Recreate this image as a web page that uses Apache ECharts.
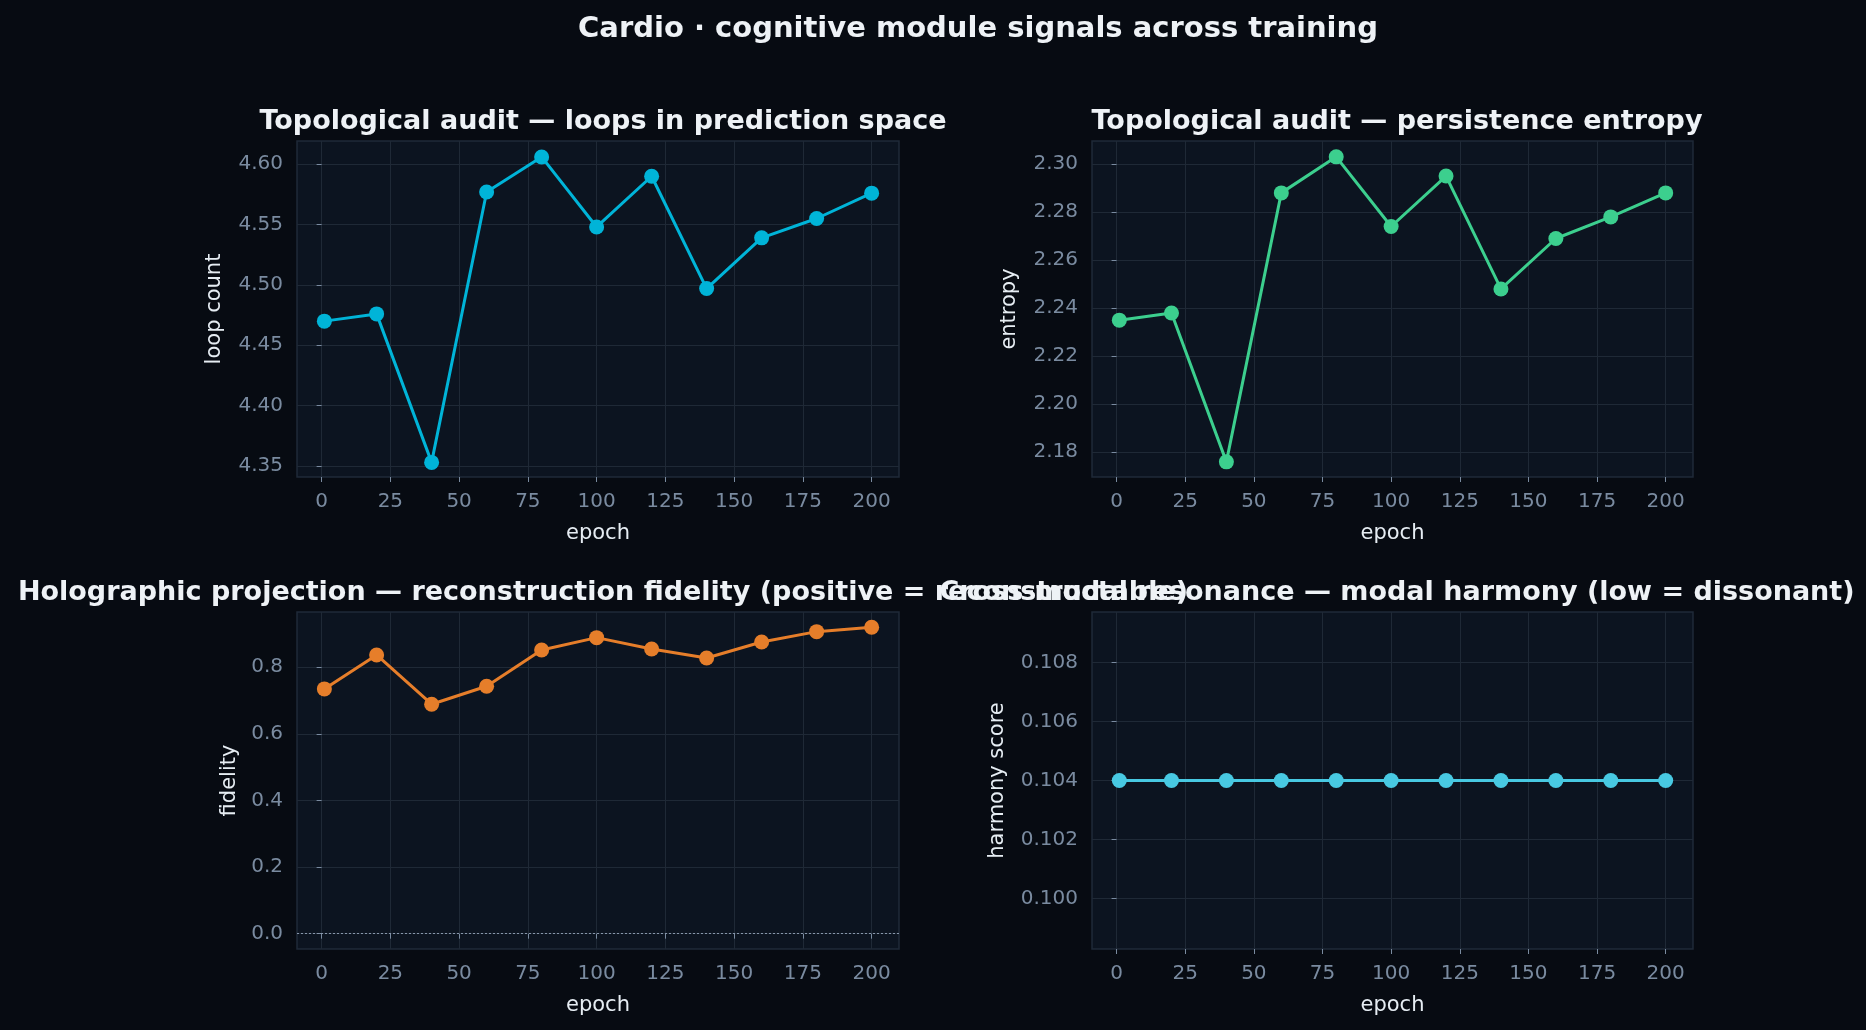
<!DOCTYPE html>
<html>
<head>
<meta charset="utf-8">
<title>Cardio cognitive module signals</title>
<script src="https://cdn.jsdelivr.net/npm/echarts@6/dist/echarts.min.js"></script>
<style>
  html, body { margin: 0; padding: 0; background: #070b12; }
  #main { width: 1866px; height: 1030px; }
</style>
</head>
<body>
<div id="main"></div>
<script>
const epochs = [1, 20, 40, 60, 80, 100, 120, 140, 160, 180, 200];
const loopCount = [4.470, 4.476, 4.353, 4.577, 4.606, 4.548, 4.590, 4.497, 4.539, 4.555, 4.576];
const entropy = [2.235, 2.238, 2.176, 2.288, 2.303, 2.274, 2.295, 2.248, 2.269, 2.278, 2.288];
const fidelity = [0.735, 0.837, 0.689, 0.743, 0.852, 0.889, 0.855, 0.828, 0.876, 0.907, 0.920];
const harmony = [0.104, 0.104, 0.104, 0.104, 0.104, 0.104, 0.104, 0.104, 0.104, 0.104, 0.104];

const xTicks = [0, 25, 50, 75, 100, 125, 150, 175, 200];
const loopTicks = [4.35, 4.40, 4.45, 4.50, 4.55, 4.60];
const entropyTicks = [2.18, 2.20, 2.22, 2.24, 2.26, 2.28, 2.30];
const fidelityTicks = [0.0, 0.2, 0.4, 0.6, 0.8];
const harmonyTicks = [0.100, 0.102, 0.104, 0.106, 0.108];

const panelTitles = [
  "Topological audit \u2014 loops in prediction space",
  "Topological audit \u2014 persistence entropy",
  "Holographic projection \u2014 reconstruction fidelity (positive = reconstructable)",
  "Cross-modal resonance \u2014 modal harmony (low = dissonant)"
];

var chartDom = document.getElementById("main");
var myChart = echarts.init(chartDom);

const FONT = "DejaVu Sans";
const tickColor = "#7a8ba0";
const gridColor = "#1f2936";

function pair(ys) {
  return epochs.map(function (e, i) { return [e, ys[i]]; });
}

function xAxisFor(idx) {
  return {
    type: "value",
    gridIndex: idx,
    min: -8.95,
    max: 209.95,
    name: "epoch",
    nameLocation: "middle",
    nameGap: 46,
    nameTextStyle: { color: "#e6edf3", fontSize: 21, fontFamily: FONT },
    axisLine: { show: false },
    axisTick: { show: true, length: 5, customValues: xTicks, lineStyle: { color: tickColor } },
    axisLabel: { customValues: xTicks, color: tickColor, fontSize: 20, fontFamily: FONT, margin: 15 },
    splitLine: { show: true, lineStyle: { color: gridColor, width: 1 } },
  };
}

function yAxisFor(idx, min, max, ticks, digits, label, gap) {
  return {
    type: "value",
    gridIndex: idx,
    min: min,
    max: max,
    name: label,
    nameLocation: "middle",
    nameGap: gap,
    nameTextStyle: { color: "#e6edf3", fontSize: 21, fontFamily: FONT },
    axisLine: { show: false },
    axisTick: { show: true, length: 5, customValues: ticks, lineStyle: { color: tickColor } },
    axisLabel: {
      customValues: ticks,
      color: tickColor,
      fontSize: 20,
      fontFamily: FONT,
      margin: 14,
      formatter: function (v) { return v.toFixed(digits); },
    },
    splitLine: { show: true, lineStyle: { color: gridColor, width: 1 } },
  };
}

function lineSeries(idx, ys, color) {
  return {
    type: "line",
    xAxisIndex: idx,
    yAxisIndex: idx,
    data: pair(ys),
    symbol: "circle",
    symbolSize: 15,
    lineStyle: { color: color, width: 3 },
    itemStyle: { color: color },
    emphasis: { disabled: true },
    z: 3,
  };
}

const gridBase = {
  show: true,
  backgroundColor: "#0c1420",
  borderColor: "#1f2a38",
  borderWidth: 1.5,
};

function panelTitle(text, x, y) {
  return {
    text: text, left: x, top: y, textAlign: "center",
    textStyle: { color: "#eef2f6", fontSize: 27, fontWeight: "bold", fontFamily: FONT },
  };
}

var option = {
  backgroundColor: "#070b12",
  textStyle: { fontFamily: FONT },
  title: [
    {
      text: "Cardio \u00b7 cognitive module signals across training",
      left: 973, top: 10, textAlign: "center",
      textStyle: { color: "#eef2f6", fontSize: 29, fontWeight: "bold", fontFamily: FONT },
    },
    panelTitle(panelTitles[0], 598, 103),
    panelTitle(panelTitles[1], 1392, 103),
    panelTitle(panelTitles[2], 598, 574),
    panelTitle(panelTitles[3], 1392, 574),
  ],
  grid: [
    Object.assign({ left: 297, top: 141, width: 602, height: 336 }, gridBase),
    Object.assign({ left: 1092, top: 141, width: 601, height: 336 }, gridBase),
    Object.assign({ left: 297, top: 612, width: 602, height: 337 }, gridBase),
    Object.assign({ left: 1092, top: 612, width: 601, height: 337 }, gridBase),
  ],
  xAxis: [xAxisFor(0), xAxisFor(1), xAxisFor(2), xAxisFor(3)],
  yAxis: [
    yAxisFor(0, 4.3409, 4.6192, loopTicks, 2, "loop count", 72),
    yAxisFor(1, 2.1697, 2.3096, entropyTicks, 2, "entropy", 72),
    yAxisFor(2, -0.046, 0.966, fidelityTicks, 1, "fidelity", 57),
    yAxisFor(3, 0.09828, 0.10972, harmonyTicks, 3, "harmony score", 84),
  ],
  series: [
    lineSeries(0, loopCount, "#00b4d8"),
    lineSeries(1, entropy, "#3ccf8e"),
    Object.assign(lineSeries(2, fidelity, "#e67e2a"), {
      markLine: {
        silent: true,
        symbol: "none",
        label: { show: false },
        lineStyle: { color: "#8796aa", type: [2, 2], width: 1.2 },
        data: [{ yAxis: 0 }],
      },
    }),
    lineSeries(3, harmony, "#48c9e2"),
  ],
};

option && myChart.setOption(option);
</script>
</body>
</html>
